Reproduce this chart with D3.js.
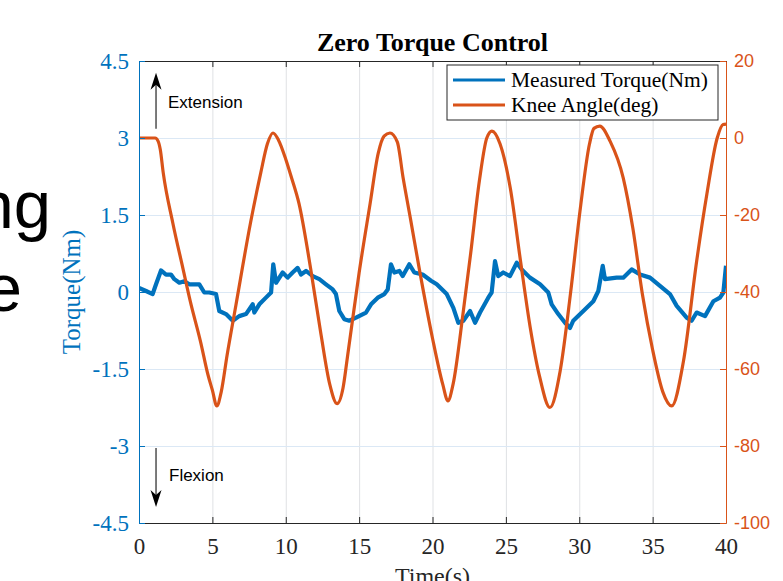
<!DOCTYPE html>
<html>
<head>
<meta charset="utf-8">
<script src="https://cdn.jsdelivr.net/npm/d3@7"></script>
<style>
  html, body { margin: 0; padding: 0; background: #fff; }
  svg { display: block; }
  .serif { font-family: "Liberation Serif", "Times New Roman", serif; }
  .sans { font-family: "Liberation Sans", Arial, sans-serif; }
</style>
</head>
<body>
<svg width="783" height="581"></svg>
<script>
const width = 783
const height = 581
const margins = { top: 61, bottom: 58, left: 139, right: 57 }

// Time ticks and axis ticks
const timeTicks = [0, 5, 10, 15, 20, 25, 30, 35, 40]
const torqueTicks = [-4.5, -3, -1.5, 0, 1.5, 3, 4.5]
const angleTicks = [-100, -80, -60, -40, -20, 0, 20]

// Measured torque (Nm)
const torqueTime = [0, 0.48, 0.93, 1.16, 1.5, 1.84, 2.18, 2.41, 2.75, 3.09, 3.43, 3.77, 4.11, 4.45, 4.79, 5.25, 5.47, 5.93, 6.39, 6.83,
  7.29, 7.75, 7.86, 8.2, 8.65, 9.0, 9.15, 9.34, 9.79, 10.13, 10.47, 10.81, 11.04, 11.38, 11.84, 12.29, 12.74, 13.2, 13.42,
  13.65, 13.99, 14.33, 14.79, 15.47, 15.81, 16.27, 16.72, 16.95, 17.17, 17.4, 17.74, 17.97, 18.42, 18.76, 19.33, 19.9, 20.29,
  20.97, 21.42, 21.76, 22.1, 22.56, 22.9, 23.24, 23.8, 24.03, 24.14, 24.26, 24.48, 24.82, 25.28, 25.74, 26.08, 26.64, 27.33,
  27.89, 28.12, 28.57, 29.03, 29.37, 29.59, 30.28, 30.96, 31.3, 31.6, 31.75, 32.55, 33.0, 33.57, 34.14, 34.82, 35.5, 36.18,
  36.64, 37.32, 37.66, 38.0, 38.57, 39.14, 39.59, 39.82, 40]
const torqueValue = [0.08, 0.02, -0.04, 0.15, 0.42, 0.34, 0.34, 0.25, 0.18, 0.21, 0.15, 0.15, 0.15, -0.01, -0.01, -0.04, -0.37, -0.43, -0.56, -0.47,
  -0.43, -0.24, -0.4, -0.24, -0.11, -0.01, 0.54, 0.18, 0.38, 0.28, 0.38, 0.47, 0.34, 0.41, 0.31, 0.25, 0.15, 0.05, -0.04,
  -0.37, -0.53, -0.56, -0.5, -0.4, -0.24, -0.11, -0.04, 0.05, 0.54, 0.38, 0.41, 0.31, 0.54, 0.38, 0.34, 0.22, 0.15,
  -0.04, -0.31, -0.6, -0.56, -0.37, -0.6, -0.4, -0.11, -0.01, 0.28, 0.6, 0.31, 0.38, 0.31, 0.57, 0.44, 0.28, 0.15,
  -0.01, -0.24, -0.43, -0.6, -0.7, -0.56, -0.37, -0.18, 0.02, 0.51, 0.25, 0.28, 0.28, 0.44, 0.34, 0.28, 0.12, -0.04,
  -0.27, -0.5, -0.56, -0.4, -0.47, -0.18, -0.11, -0.01, 0.51]

// Knee angle (deg)
const kneeTime = [0, 0.5, 1.1, 1.3, 1.45, 1.65, 2.3, 3.0, 3.5, 4.2, 4.7, 5.0, 5.3, 5.6, 6.0, 6.6, 7.6, 8.3, 8.75, 9.13, 9.5,
  10.0, 10.4, 10.9, 11.7, 12.4, 13.0, 13.5, 13.9, 14.2, 15.0, 15.75, 16.3, 16.7, 17.1, 17.6, 18.0, 18.5, 19.1, 20.0, 20.7,
  21.05, 21.4, 22.1, 22.6, 23.2, 23.7, 24.05, 24.6, 25.3, 26.0, 26.65, 27.3, 28.0, 28.7, 29.4, 30.05, 30.7, 31.0, 31.4, 32.1,
  33.0, 33.65, 34.3, 35.0, 35.7, 36.3, 37.1, 38.0, 38.7, 39.4, 39.8, 40]
const kneeValue = [0, 0, 0, -0.8, -3, -9, -22, -34, -42.5, -53, -61.5, -65.5, -69.6, -66, -56.5, -43.5, -22, -9, -1.5, 1.3, -0.5,
  -5.5, -10.4, -17, -34, -51, -64, -69, -65, -57, -35, -17, -4, 0.5, 1.3, -1, -10.4, -21, -34, -52, -64,
  -68.3, -64, -45, -30, -11, 0, 1.8, -1.5, -13, -32, -49, -62, -70, -60.5, -40.5, -19, -1.5, 2.5, 3.1, -0.8,
  -10.4, -23.4, -40.5, -55, -66, -69.6, -58, -32, -14.5, 0, 3.5, 3.6]

// Legend and annotations
const legendNames = ["Measured Torque(Nm)", "Knee Angle(deg)"]
const arrowNotes = [
  { label: "Extension", t: 1.16, from: 3.18, to: 4.27 },
  { label: "Flexion", t: 1.16, from: -3.04, to: -4.19 }
]

const blue = "#0072BD"
const orange = "#D95319"
const axisGrey = "#262626"

let svg = d3.select("svg")

// Scales
let xScale = d3.scaleLinear().domain([0, 40]).range([margins.left, width - margins.right])
let yLeft = d3.scaleLinear().domain([-4.5, 4.5]).range([height - margins.bottom, margins.top])
let yRight = d3.scaleLinear().domain([-100, 20]).range([height - margins.bottom, margins.top])
const plotW = width - margins.right - margins.left
const plotH = height - margins.bottom - margins.top

// Background slide text peeking in on the left
svg.append("text").attr("class", "sans")
  .attr("x", 51).attr("y", 228).attr("text-anchor", "end")
  .style("font-size", "67px").attr("fill", "#000").text("ng")
svg.append("text").attr("class", "sans")
  .attr("x", 22).attr("y", 311).attr("text-anchor", "end")
  .style("font-size", "67px").attr("fill", "#000").text("e")

// Vertical grid
svg.append("g")
  .attr("transform", `translate(0,${height - margins.bottom})`)
  .call(d3.axisBottom(xScale).tickValues(timeTicks).tickSize(-plotH).tickFormat(""))
  .call(g => g.select(".domain").remove())
  .selectAll("line").attr("stroke", "#dfe1e4").attr("stroke-width", 1)

// Horizontal grid
svg.append("g")
  .attr("transform", `translate(${margins.left},0)`)
  .call(d3.axisLeft(yLeft).tickValues(torqueTicks).tickSize(-plotW).tickFormat(""))
  .call(g => g.select(".domain").remove())
  .selectAll("line").attr("stroke", "#dbe8f5").attr("stroke-width", 1)

// Lines
svg.append("clipPath").attr("id", "plotClip")
  .append("rect").attr("x", margins.left).attr("y", margins.top).attr("width", plotW).attr("height", plotH)

let torqueData = torqueTime.map((t, i) => ({ t: t, v: torqueValue[i] }))
let kneeData = kneeTime.map((t, i) => ({ t: t, v: kneeValue[i] }))

let torqueLine = d3.line().x(d => xScale(d.t)).y(d => yLeft(d.v))
let kneeLine = d3.line().x(d => xScale(d.t)).y(d => yRight(d.v)).curve(d3.curveMonotoneX)

let fig = svg.append("g").attr("clip-path", "url(#plotClip)")
fig.append("path").datum(torqueData)
  .attr("d", torqueLine).attr("fill", "none").attr("stroke", blue)
  .attr("stroke-width", 4.2).attr("stroke-linejoin", "round")
fig.append("path").datum(kneeData)
  .attr("d", kneeLine).attr("fill", "none").attr("stroke", orange)
  .attr("stroke-width", 3.2).attr("stroke-linejoin", "round")

// Axes
// top border with inward ticks
svg.append("g")
  .attr("transform", `translate(0,${margins.top})`)
  .call(d3.axisTop(xScale).tickValues(timeTicks).tickSizeInner(-6).tickSizeOuter(0).tickFormat(""))
  .call(g => g.select(".domain").attr("stroke", axisGrey))
  .selectAll("line").attr("stroke", axisGrey)

// bottom x axis
let xAxisG = svg.append("g")
  .attr("transform", `translate(0,${height - margins.bottom})`)
  .call(d3.axisBottom(xScale).tickValues(timeTicks).tickSizeInner(-6).tickSizeOuter(0).tickPadding(15).tickFormat(d => String(d)))
xAxisG.select(".domain").attr("stroke", axisGrey)
xAxisG.selectAll("line").attr("stroke", axisGrey)
xAxisG.selectAll("text").attr("class", "serif").attr("fill", axisGrey).style("font-size", "23px")

// left torque axis
let leftG = svg.append("g")
  .attr("transform", `translate(${margins.left},0)`)
  .call(d3.axisLeft(yLeft).tickValues(torqueTicks).tickSizeInner(-6).tickSizeOuter(0).tickPadding(10).tickFormat(d => String(d)))
leftG.select(".domain").attr("stroke", blue)
leftG.selectAll("line").attr("stroke", blue)
leftG.selectAll("text").attr("class", "serif").attr("fill", blue).style("font-size", "23px")

// right angle axis
let rightG = svg.append("g")
  .attr("transform", `translate(${width - margins.right},0)`)
  .call(d3.axisRight(yRight).tickValues(angleTicks).tickSizeInner(-6).tickSizeOuter(0).tickPadding(8).tickFormat(d => String(d)))
rightG.select(".domain").attr("stroke", orange)
rightG.selectAll("line").attr("stroke", orange)
rightG.selectAll("text").attr("class", "sans").attr("fill", orange).style("font-size", "18px")

// Axis titles and chart title
svg.append("text").attr("class", "serif")
  .attr("transform", `translate(80,${(margins.top + height - margins.bottom) / 2}) rotate(-90)`)
  .attr("text-anchor", "middle").attr("fill", blue).style("font-size", "25px")
  .text("Torque(Nm)")
svg.append("text").attr("class", "serif")
  .attr("x", margins.left + plotW / 2).attr("y", 584)
  .attr("text-anchor", "middle").attr("fill", axisGrey).style("font-size", "24px")
  .text("Time(s)")
svg.append("text").attr("class", "serif")
  .attr("x", margins.left + plotW / 2).attr("y", 51)
  .attr("text-anchor", "middle").attr("fill", "#000").style("font-size", "26px").style("font-weight", "bold")
  .text("Zero Torque Control")

// Annotation arrows
const arrowG = svg.append("g")
arrowNotes.forEach(a => {
  const x = xScale(a.t)
  const y0 = yLeft(a.from)
  const y1 = yLeft(a.to)
  const dir = y1 < y0 ? 1 : -1
  arrowG.append("line")
    .attr("x1", x).attr("x2", x).attr("y1", y0).attr("y2", y1 + dir * 10)
    .attr("stroke", "#222").attr("stroke-width", 1.2)
  arrowG.append("path")
    .attr("d", `M${x},${y1} L${x - 5.5},${y1 + dir * 17} L${x},${y1 + dir * 12} L${x + 5.5},${y1 + dir * 17} Z`)
    .attr("fill", "#000")
})
arrowG.append("text").attr("class", "sans")
  .attr("x", 168).attr("y", 108).attr("fill", "#000").style("font-size", "17px").text(arrowNotes[0].label)
arrowG.append("text").attr("class", "sans")
  .attr("x", 169).attr("y", 481).attr("fill", "#000").style("font-size", "17px").text(arrowNotes[1].label)

// Legend
const legend = svg.append("g").attr("transform", "translate(447,65)")
legend.append("rect")
  .attr("width", 271).attr("height", 55)
  .attr("fill", "#fff").attr("stroke", axisGrey).attr("stroke-width", 1)
let items = legend.selectAll(".item")
  .data(legendNames)
  .enter()
  .append("g")
  .attr("transform", (d, i) => `translate(0,${15 + i * 25})`)
items.append("line")
  .attr("x1", 6).attr("x2", 58).attr("y1", 0).attr("y2", 0)
  .attr("stroke", (d, i) => i === 0 ? blue : orange).attr("stroke-width", 3)
items.append("text").attr("class", "serif")
  .attr("x", 64).attr("y", 7).attr("fill", "#000").style("font-size", "21.5px")
  .text(d => d)
</script>
</body>
</html>
